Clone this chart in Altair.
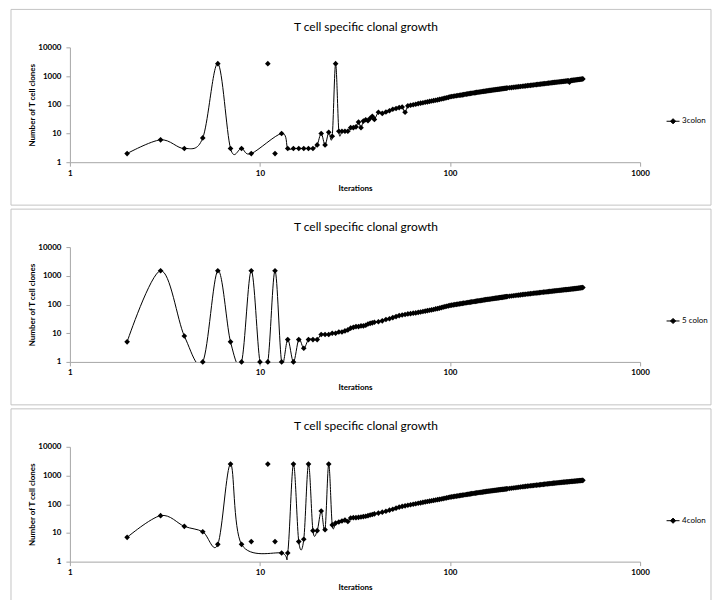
import altair as alt
import pandas as pd

TITLE = "T cell specific clonal growth"
X_TITLE = "Iterations"
Y_TITLE = "Number of T cell clones"
X_TICKS = [1, 10, 100, 1000]
Y_TICKS = [1, 10, 100, 1000, 10000]

# iteration grids for the dense tail of every run
TAIL_A = list(range(42, 101, 2))
TAIL_B = list(range(102, 201, 2))
TAIL_C = list(range(205, 501, 5))

# ---- run 1: 3colon ----
S1_NAME = "3colon"
S1_ITER = [2, 3, 4, 5, 6, 7, 8, 9] + list(range(13, 41)) + TAIL_A + TAIL_B + TAIL_C
S1_VAL = [2, 6, 3, 7, 2700, 3, 3, 2,
          10, 3, 3, 3, 3, 3, 3, 4, 10, 4, 11, 8, 2700, 12, 12, 12, 12, 16, 16, 17, 25, 16, 27, 30, 28, 34, 40, 31,
          55, 50, 56, 62, 70, 74, 80, 84, 55, 92, 96, 100, 104, 110, 114, 118, 122, 126, 131, 135,
          140, 144, 149, 154, 159, 164, 170, 176, 182, 190,
          194, 198, 202, 206, 210, 214, 218, 222, 227, 232, 236, 240, 245, 249, 253, 257, 261, 265, 269, 273,
          277, 281, 285, 289, 293, 297, 300, 304, 308, 312, 316, 319, 323, 326, 330, 334, 337, 341, 344, 348,
          352, 355, 359, 362, 366, 370, 373, 377, 380, 384,
          391, 398, 406, 413, 420, 427, 434, 441, 448, 455, 462, 469, 476, 483, 490, 497, 504, 511, 518, 525,
          532, 539, 546, 553, 560, 567, 574, 581, 588, 595, 601, 608, 614, 621, 627, 634, 640, 647, 653, 660,
          666, 673, 679, 686, 610, 699, 705, 712, 718, 725, 732, 739, 746, 753, 760, 767, 774, 781, 788, 795]
S1_ISO_ITER = [11, 12]
S1_ISO_VAL = [2700, 2]

# ---- run 2: 5 colon ----
S2_NAME = "5 colon"
S2_ITER = list(range(2, 41)) + TAIL_A + TAIL_B + TAIL_C
S2_VAL = [5, 1500, 8, 1, 1500, 5, 1, 1500, 1, 1, 1500, 1, 6, 1, 6, 3, 6, 6, 6, 9, 9, 9, 10, 10, 11, 11, 12, 13,
          15, 16, 17, 17, 18, 18, 19, 21, 22, 23, 24,
          25, 27, 30, 32, 35, 38, 41, 43, 45, 47, 48, 50, 51, 53, 55, 57, 59, 61, 63, 65,
          67, 70, 72, 75, 78, 81, 84, 87, 90, 93,
          95, 97, 99, 101, 103, 105, 107, 109, 111, 113, 115, 117, 119, 121, 123, 125, 127, 129, 131, 133,
          135, 137, 139, 141, 143, 145, 147, 149, 151, 152, 154, 156, 158, 160, 162, 164, 166, 167, 169, 171,
          173, 175, 177, 178, 180, 182, 184, 186, 188, 190,
          194, 198, 202, 206, 210, 213, 217, 221, 225, 228, 232, 235, 239, 242, 246, 249, 252, 255, 259, 262,
          266, 269, 272, 275, 279, 282, 285, 288, 292, 295, 298, 301, 304, 307, 310, 313, 316, 319, 322, 325,
          328, 331, 334, 337, 340, 343, 346, 349, 352, 355, 358, 362, 365, 369, 372, 376, 379, 383, 386, 390]
S2_ISO_ITER = []
S2_ISO_VAL = []

# ---- run 3: 4colon ----
S3_NAME = "4colon"
S3_ITER = [2, 3, 4, 5, 6, 7, 8] + list(range(13, 41)) + TAIL_A + TAIL_B + TAIL_C
S3_VAL = [7, 40, 17, 11, 4, 2500, 4,
          2, 2, 2500, 5, 6, 2500, 12, 12, 58, 13, 2500, 19, 22, 24, 26, 28, 25, 33, 34, 34, 35, 36, 37, 38, 40, 42, 44, 46,
          49, 53, 57, 62, 67, 73, 79, 84, 88, 92, 96, 100, 104, 108, 112, 116, 120, 124, 128, 132,
          136, 140, 144, 148, 152, 157, 162, 167, 172, 177,
          181, 184, 188, 191, 195, 199, 203, 207, 210, 214, 218, 221, 225, 229, 233, 236, 240, 244, 247, 251,
          255, 258, 262, 265, 269, 272, 275, 279, 282, 285, 288, 291, 295, 298, 301, 304, 307, 310, 313, 316,
          319, 322, 325, 327, 330, 333, 336, 339, 342, 345,
          352, 360, 367, 375, 382, 390, 397, 405, 412, 420, 426, 432, 438, 444, 450, 456, 462, 468, 474, 480,
          486, 492, 498, 504, 510, 516, 522, 528, 534, 540, 545, 550, 555, 560, 565, 570, 575, 580, 585, 590,
          594, 599, 603, 608, 612, 617, 621, 626, 630, 635, 639, 644, 648, 653, 657, 662, 666, 671, 675, 680]
S3_ISO_ITER = [9, 11, 12]
S3_ISO_VAL = [5, 2500, 5]

FONT = "Lato"
AXIS_GREY = "#a6a6a6"
FRAME_GREY = "#c4c4c4"
PLOT_W = 571
PLOT_H = 115
MARK_SIZE = 32
LEGEND_SYMBOL = "M-1,0L1,0M0,-0.4L0.4,0L0,0.4L-0.4,0Z"


def panel(name, iters, vals, iso_iters, iso_vals, frame_bottom):
    df = pd.DataFrame({"Iterations": iters, "Clones": vals, "series": [name] * len(iters)})
    iso = pd.DataFrame({"Iterations": iso_iters, "Clones": iso_vals})

    x = alt.X("Iterations:Q",
              scale=alt.Scale(type="log", domain=[1, 1000]),
              axis=alt.Axis(values=X_TICKS, format="d", title=X_TITLE, grid=False, labelFlush=False,
                            tickSize=4, labelPadding=3, titlePadding=7))
    y = alt.Y("Clones:Q",
              scale=alt.Scale(type="log", domain=[1, 10000]),
              axis=alt.Axis(values=Y_TICKS, format="d", title=Y_TITLE, grid=False, labelFlush=False,
                            tickSize=4, labelPadding=5, titlePadding=1))

    frame = alt.Chart(pd.DataFrame({"k": [0]})).mark_rect(
        filled=False, stroke=FRAME_GREY, strokeWidth=1
    ).encode(x=alt.value(-59), x2=alt.value(642), y=alt.value(-38), y2=alt.value(frame_bottom))

    line = alt.Chart(df).mark_line(interpolate="cardinal", strokeWidth=1, clip=True).encode(
        x=x, y=y,
        color=alt.Color("series:N", scale=alt.Scale(range=["black"]),
                        legend=alt.Legend(orient="none", legendX=597, legendY=67, title=None,
                                          symbolType=LEGEND_SYMBOL, symbolSize=169,
                                          symbolStrokeWidth=1, symbolFillColor="black",
                                          labelFont=FONT, labelFontSize=8, labelColor="black",
                                          labelOffset=2, padding=0))
    )
    pts = alt.Chart(df).mark_point(shape="diamond", filled=True, size=MARK_SIZE,
                                   color="black", opacity=1).encode(x=x, y=y)
    layers = [frame, line, pts]
    if len(iso) > 0:
        layers.append(alt.Chart(iso).mark_point(shape="diamond", filled=True, size=MARK_SIZE,
                                                color="black", opacity=1).encode(x=x, y=y))
    return alt.layer(*layers).properties(
        width=PLOT_W, height=PLOT_H,
        title=alt.TitleParams(TITLE, anchor="middle", frame="bounds", offset=-30, dx=5,
                              baseline="middle", font=FONT, fontSize=12, fontWeight="normal",
                              color="black"),
    )


chart = alt.vconcat(
    panel(S1_NAME, S1_ITER, S1_VAL, S1_ISO_ITER, S1_ISO_VAL, 158),
    panel(S2_NAME, S2_ITER, S2_VAL, S2_ISO_ITER, S2_ISO_VAL, 158),
    panel(S3_NAME, S3_ITER, S3_VAL, S3_ISO_ITER, S3_ISO_VAL, 155),
    spacing=2,
).resolve_scale(color="independent").resolve_legend(color="independent").properties(
    padding={"left": 10, "top": 8, "right": 0, "bottom": 0},
    background="white",
).configure_view(stroke=None).configure_axis(
    domainColor=AXIS_GREY, tickColor=AXIS_GREY, labelFont=FONT, labelFontSize=8,
    labelColor="black", labelFontWeight="bold", titleFont=FONT, titleFontSize=8,
    titleFontWeight="bold", titleColor="black",
)

chart.save("out.html", embed_options={"renderer": "svg", "actions": False})
